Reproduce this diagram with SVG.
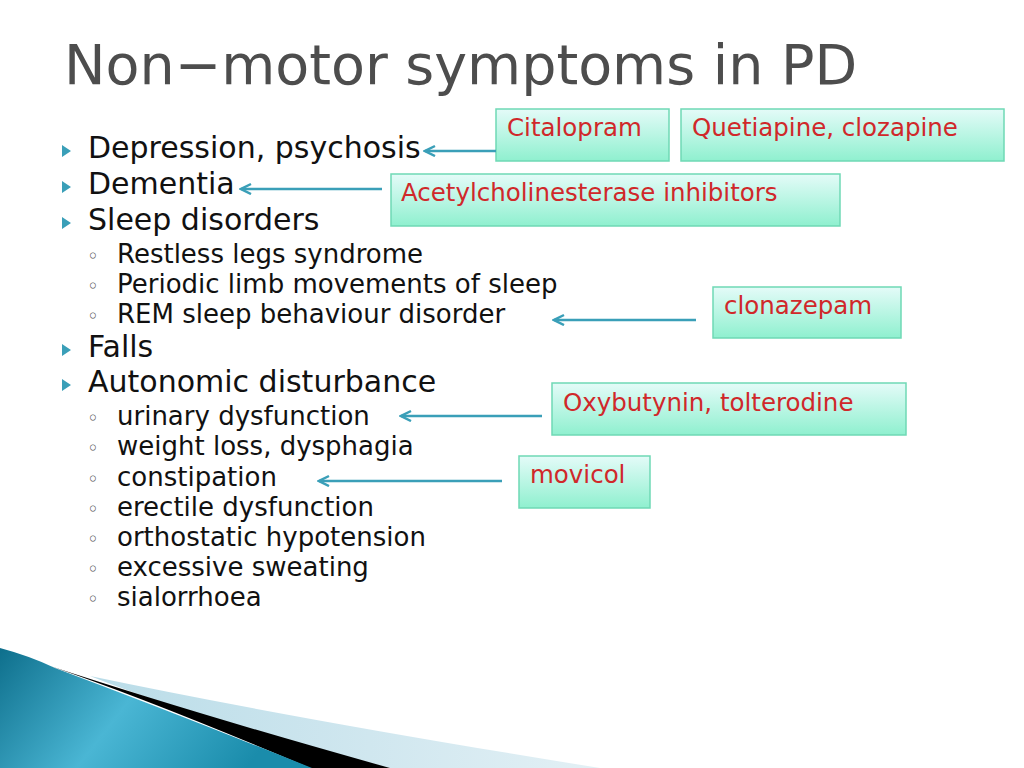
<svg xmlns="http://www.w3.org/2000/svg" width="1024" height="768" viewBox="0 0 1024 768">
<defs>
<linearGradient id="bx" x1="0" y1="0" x2="0" y2="1"><stop offset="0" stop-color="#e4fbf8"/><stop offset="1" stop-color="#8ff0cf"/></linearGradient>
<linearGradient id="tl" x1="0" y1="0" x2="1" y2="0.3"><stop offset="0" stop-color="#0e6f8c"/><stop offset="0.5" stop-color="#4ab6d4"/><stop offset="1" stop-color="#1a8cab"/></linearGradient>
<linearGradient id="lb" x1="0" y1="0" x2="1" y2="0"><stop offset="0" stop-color="#b9dce8"/><stop offset="1" stop-color="#e3f0f5"/></linearGradient>
<marker id="ah" markerWidth="14" markerHeight="14" refX="12" refY="6" orient="auto" markerUnits="userSpaceOnUse"><path d="M2,1 L12,6 L2,11" fill="none" stroke="#3a9fb8" stroke-width="2.5"/></marker>
<style>
.b{fill:url(#bx);stroke:#6fd9b5;stroke-width:1.5}
.r{font-family:"DejaVu Sans",sans-serif;font-size:24.5px;fill:#d0282a}
.l1{font-family:"DejaVu Sans",sans-serif;font-size:30px;fill:#111}
.l2{font-family:"DejaVu Sans",sans-serif;font-size:26px;fill:#111}
.bu{font-family:"DejaVu Sans",sans-serif;font-size:20px;fill:#555}
.c{stroke:#3a9fb8;stroke-width:2.5;fill:none;marker-end:url(#ah)}
</style>
</defs>
<rect width="1024" height="768" fill="#fff"/>
<g id="decor">
<path d="M90,676 Q300,720 600,768 L390,768 Q200,720 90,676Z" fill="url(#lb)"/>
<path d="M50,666 Q200,715 390,768 L310,768 Q150,700 50,666Z" fill="#000"/>
<path d="M0,648 Q30,656 55,668 Q180,715 312,768 L0,768Z" fill="url(#tl)"/>
</g>
<text x="64" y="84" font-family="DejaVu Sans,sans-serif" font-size="55.5" fill="#4d4d4d">Non−motor symptoms in PD</text>
<g id="list">
<path d="M62,145 l9,6 l-9,6z M62,181 l9,6 l-9,6z M62,217 l9,6 l-9,6z M62,344 l9,6 l-9,6z M62,379 l9,6 l-9,6z" fill="#3a9fb8"/>
<text class="l1" x="88" y="158">Depression, psychosis</text>
<text class="l1" x="88" y="194">Dementia</text>
<text class="l1" x="88" y="230">Sleep disorders</text>
<text class="l1" x="88" y="357">Falls</text>
<text class="l1" x="88" y="392">Autonomic disturbance</text>
<g class="bu"><text x="87" y="263">◦</text><text x="87" y="293">◦</text><text x="87" y="323">◦</text><text x="87" y="425">◦</text><text x="87" y="455">◦</text><text x="87" y="486">◦</text><text x="87" y="516">◦</text><text x="87" y="546">◦</text><text x="87" y="576">◦</text><text x="87" y="606">◦</text></g>
<text class="l2" x="117" y="263">Restless legs syndrome</text>
<text class="l2" x="117" y="293">Periodic limb movements of sleep</text>
<text class="l2" x="117" y="323">REM sleep behaviour disorder</text>
<text class="l2" x="117" y="425">urinary dysfunction</text>
<text class="l2" x="117" y="455">weight loss, dysphagia</text>
<text class="l2" x="117" y="486">constipation</text>
<text class="l2" x="117" y="516">erectile dysfunction</text>
<text class="l2" x="117" y="546">orthostatic hypotension</text>
<text class="l2" x="117" y="576">excessive sweating</text>
<text class="l2" x="117" y="606">sialorrhoea</text>
</g>
<g id="n1"><rect class="b" x="496" y="109" width="173" height="52"/><text class="r" x="507" y="136">Citalopram</text></g>
<g id="n2"><rect class="b" x="681" y="109" width="323" height="52"/><text class="r" x="692" y="136">Quetiapine, clozapine</text></g>
<g id="n3"><rect class="b" x="391" y="174" width="449" height="52"/><text class="r" x="401" y="201">Acetylcholinesterase inhibitors</text></g>
<g id="n4"><rect class="b" x="713" y="287" width="188" height="51"/><text class="r" x="724" y="314">clonazepam</text></g>
<g id="n5"><rect class="b" x="552" y="383" width="354" height="52"/><text class="r" x="563" y="411">Oxybutynin, tolterodine</text></g>
<g id="n6"><rect class="b" x="519" y="456" width="131" height="52"/><text class="r" x="530" y="483">movicol</text></g>
<g id="connectors">
<path class="c" d="M496,151 L425,151"/>
<path class="c" d="M382,189 L241,189"/>
<path class="c" d="M696,320 L554,320"/>
<path class="c" d="M542,416 L401,416"/>
<path class="c" d="M502,481 L319,481"/>
</g>
</svg>
